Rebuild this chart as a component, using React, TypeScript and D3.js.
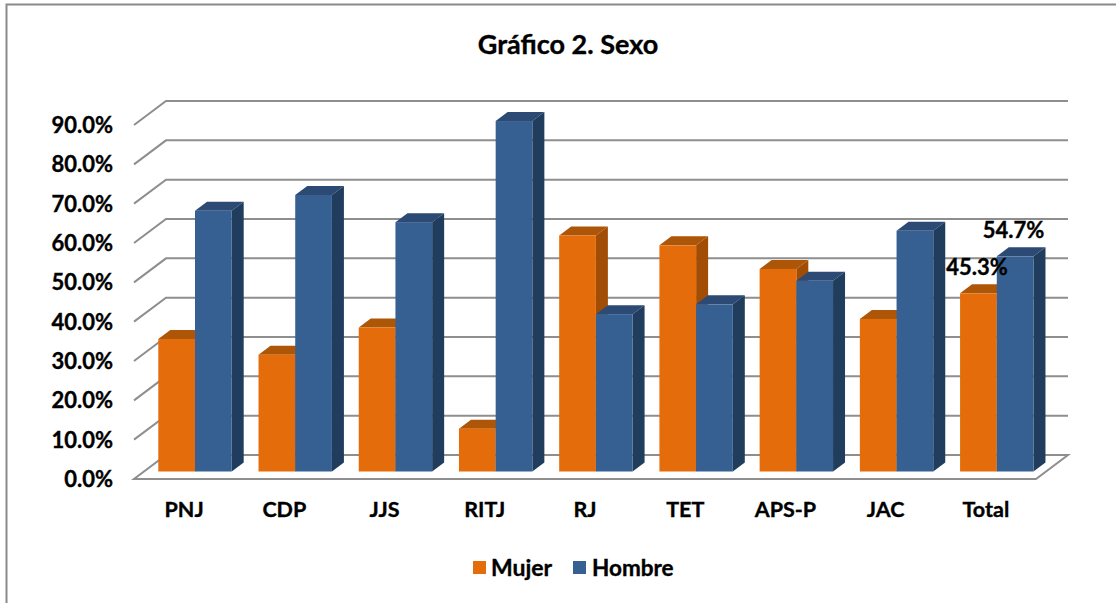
import React from "react";
import * as d3 from "d3";

const categories = ["PNJ", "CDP", "JJS", "RITJ", "RJ", "TET", "APS-P", "JAC", "Total"];
const mujer = [33.7, 29.7, 36.6, 10.9, 60.0, 57.5, 51.5, 38.8, 45.3];
const hombre = [66.3, 70.3, 63.4, 89.1, 40.0, 42.5, 48.5, 61.2, 54.7];
const ticks = [0, 10, 20, 30, 40, 50, 60, 70, 80, 90];
const title = "Gráfico 2. Sexo";
const seriesNames = ["Mujer", "Hombre"];

const FONT = "Lato, Carlito, sans-serif";
const colors = {
  orange: { front: "#E46C0A", top: "#AD5607", side: "#A24D06" },
  blue: { front: "#376092", top: "#2C4A74", side: "#213D5D" },
};
const textStyle = { fontWeight: 700, fill: "#000", stroke: "#000", strokeWidth: 0.35 };

export default function App() {
  const y = d3.scaleLinear().domain([0, 90]).range([0, 354]);
  const x = d3.scaleBand<string>().domain(categories).range([134, 1036]);
  const floorY = 479;
  const back = { dx: 32, dy: 24 };
  const bar = { dx: 12, dy: 9, w: 36.7, inY: 7.5 };
  const grid = "#8e8e8e";

  const box = (x0: number, v: number, c: { front: string; top: string; side: string }, key: string) => {
    const b = floorY - bar.inY;
    const t = b - y(v);
    const x1 = x0 + bar.w;
    const p = d3.path();
    p.moveTo(x0, t); p.lineTo(x0 + bar.dx, t - bar.dy); p.lineTo(x1 + bar.dx, t - bar.dy); p.lineTo(x1, t); p.closePath();
    const s = d3.path();
    s.moveTo(x1, t); s.lineTo(x1 + bar.dx, t - bar.dy); s.lineTo(x1 + bar.dx, b - bar.dy); s.lineTo(x1, b); s.closePath();
    return (
      <g key={key}>
        <path d={p.toString()} fill={c.top} />
        <path d={s.toString()} fill={c.side} />
        <rect x={x0} y={t} width={bar.w} height={b - t} fill={c.front} />
      </g>
    );
  };

  return (
    <svg width={1116} height={603} style={{ position: "absolute", left: 0, top: 0, background: "#fff" }} fontFamily={FONT}>
      <path d="M1116,4.5H6.5V603" fill="none" stroke="#8a8a8a" strokeWidth={2} />
      <text x={568} y={54} textAnchor="middle" fontSize={27} {...textStyle}>{title}</text>

      {ticks.map((t) => {
        const yy = floorY - y(t);
        const d = t === 0
          ? `M${x.range()[0]},${yy}L${x.range()[1]},${yy}L${x.range()[1] + back.dx},${yy - back.dy}L${x.range()[0] + back.dx},${yy - back.dy}Z`
          : `M${x.range()[0]},${yy}L${x.range()[0] + back.dx},${yy - back.dy}L${x.range()[1] + back.dx},${yy - back.dy}`;
        return (
          <g key={t}>
            <path d={d} fill="none" stroke={grid} strokeWidth={2} />
            <text x={113} y={yy + 8} textAnchor="end" fontSize={22} {...textStyle}>{t.toFixed(1)}%</text>
          </g>
        );
      })}

      {categories.map((c, i) => {
        const x0 = (x(c) as number) + 24.3;
        return (
          <g key={c}>
            {box(x0, mujer[i], colors.orange, "m")}
            {box(x0 + bar.w, hombre[i], colors.blue, "h")}
          </g>
        );
      })}

      {categories.map((c) => (
        <text key={c} x={(x(c) as number) + x.bandwidth() / 2} y={517} textAnchor="middle" fontSize={21.5} {...textStyle}>{c}</text>
      ))}

      <text x={977} y={275} textAnchor="middle" fontSize={22} {...textStyle}>{mujer[8].toFixed(1)}%</text>
      <text x={1013.5} y={238} textAnchor="middle" fontSize={22} {...textStyle}>{hombre[8].toFixed(1)}%</text>

      <rect x={473} y={561} width={13} height={13} fill={colors.orange.front} />
      <text x={491} y={576} fontSize={23} {...textStyle}>{seriesNames[0]}</text>
      <rect x={573} y={561} width={13} height={13} fill={colors.blue.front} />
      <text x={592} y={576} fontSize={22.5} {...textStyle}>{seriesNames[1]}</text>
    </svg>
  );
}
